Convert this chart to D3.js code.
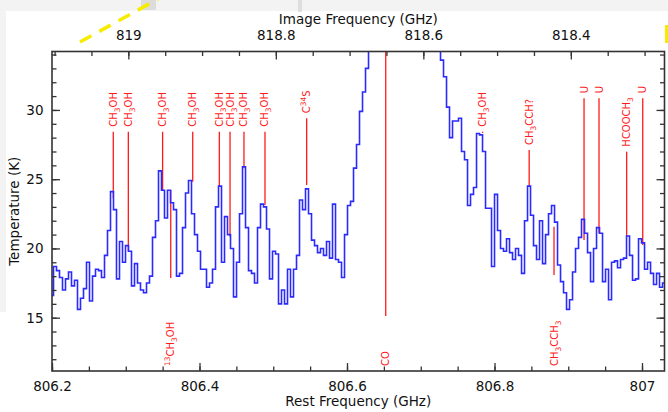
<!DOCTYPE html>
<html>
<head>
<meta charset="utf-8">
<script src="https://cdn.jsdelivr.net/npm/d3@7"></script>
<style>
  html, body { margin: 0; padding: 0; background: #f3f3f3; }
  svg { display: block; font-family: "DejaVu Sans", Verdana, sans-serif; }
</style>
</head>
<body>
<svg id="chart" width="668" height="412"></svg>
<script>
// spectrum: regular channel grid, brightness temperature per channel (K)
const SPEC_START = 806.2;
const SPEC_STEP = 0.004068;
const SPEC_T = [
  16.6, 18.7, 18.4, 17.9, 17.0, 17.8, 18.3, 17.3, 17.7, 15.6,
  16.4, 17.1, 19.0, 16.2, 18.0, 18.5, 18.4, 17.9, 19.5, 21.3,
  24.1, 22.8, 17.8, 20.5, 19.0, 20.2, 19.8, 17.3, 18.9, 17.5,
  17.0, 16.8, 17.5, 18.0, 20.8, 22.0, 25.6, 24.2, 22.2, 24.2,
  23.3, 22.8, 18.0, 18.2, 21.5, 24.0, 24.9, 22.5, 21.0, 19.8,
  18.5, 18.5, 17.2, 17.5, 18.5, 23.0, 24.5, 19.0, 22.3, 21.0,
  20.0, 16.5, 19.0, 22.5, 25.9, 21.5, 18.4, 18.2, 17.5, 21.5,
  23.2, 23.0, 21.4, 17.8, 19.8, 19.6, 16.0, 17.0, 16.0, 18.5,
  16.5, 18.5, 19.5, 23.5, 22.8, 24.3, 22.5, 20.6, 20.2, 19.7,
  20.0, 19.5, 20.5, 19.3, 23.2, 19.2, 19.0, 17.9, 21.0, 23.1,
  23.4, 25.8, 27.5, 29.9, 31.3, 33.0, 35.5, 37.0, 38.5, 40.0,
  41.0, 42.0, 42.5, 43.0, 43.0, 42.5, 42.0, 41.5, 41.0, 40.5,
  40.0, 39.5, 39.0, 38.5, 38.0, 37.5, 37.0, 36.5, 36.0, 35.0,
  33.6, 32.4, 30.2, 28.0, 29.2, 29.2, 29.4, 27.0, 26.4, 23.1,
  23.9, 24.4, 28.3, 28.2, 27.0, 22.9, 22.9, 18.7, 23.9, 21.3,
  20.0, 19.8, 20.7, 19.7, 19.2, 20.0, 19.5, 18.2, 22.0, 24.5,
  22.4, 20.2, 19.2, 22.0, 18.9, 21.0, 22.5, 23.1, 21.9, 18.8,
  17.6, 16.8, 15.6, 16.3, 18.3, 20.0, 20.8, 22.1, 21.1, 19.7,
  17.6, 20.0, 21.5, 21.1, 17.6, 18.5, 16.3, 19.0, 19.1, 18.6,
  19.2, 19.3, 20.9, 19.5, 17.7, 17.8, 20.7, 20.4, 18.5, 19.0,
  18.2, 17.4, 18.2, 17.2, 17.5
];

// line identifications
const LINE_NAMES = ["CH_3OH", "CH_3OH", "CH_3OH", "^13CH_3OH", "CH_3OH", "CH_3OH",
  "CH_3OH", "CH_3OH", "CH_3OH", "C^34S", "CO", "CH_3OH", "CH_3CCH?", "CH_3CCH_3",
  "U", "U", "HCOOCH_3", "U"];
const LINE_FREQ = [806.2831, 806.3035, 806.3500, 806.3610, 806.3908, 806.4269,
  806.4414, 806.4603, 806.4888, 806.5453, 806.6525, 806.7840, 806.8470, 806.8807,
  806.9214, 806.9417, 806.9792, 807.0010];
const LINE_TOP_T = [28.43, 28.43, 28.43, 24.22, 28.43, 28.43, 28.43, 28.43, 28.43,
  29.40, 36.0, 28.43, 27.10, 21.57, 30.85, 30.85, 26.99, 30.85];
const LINE_BOTTOM_T = [23.62, 19.77, 24.22, 17.87, 24.82, 24.46, 20.85, 25.79, 23.14,
  24.58, 15.13, 28.34, 24.46, 18.09, 20.61, 21.10, 20.85, 20.25];
const LINE_LABEL_BELOW = ["^13CH_3OH", "CO", "CH_3CCH_3"];

// axes
const REST_RANGE = [806.2, 807.0305];
const TEMP_RANGE = [11.15, 34.22];
const LO_FREQ = 812.65175; // image = 2*LO - rest
const REST_TICKS = [806.2, 806.4, 806.6, 806.8, 807.0];
const IMAGE_TICKS = [819.0, 818.8, 818.6, 818.4];
const TEMP_TICKS = [15, 20, 25, 30];

const margin = { top: 51.5, right: 3.5, bottom: 41, left: 52 };
const width = 668 - margin.left - margin.right;
const height = 412 - margin.top - margin.bottom;

const svg = d3.select("#chart");

// page backdrop (white sheet on grey)
svg.append("rect").attr("x", 6).attr("y", 11).attr("width", 662).attr("height", 401).attr("fill", "#fff");
svg.append("rect").attr("x", 0).attr("y", 312).attr("width", 6).attr("height", 100).attr("fill", "#fff");
svg.append("rect").attr("x", 141).attr("y", 0).attr("width", 15).attr("height", 10).attr("fill", "#dcdcdc");
svg.append("rect").attr("x", 298).attr("y", 0).attr("width", 4).attr("height", 12).attr("fill", "#dedede");
svg.append("line")
  .attr("x1", 80).attr("y1", 42).attr("x2", 158).attr("y2", -1)
  .attr("stroke", "#f7ec00").attr("stroke-width", 3.5)
  .attr("stroke-dasharray", "13,9");
svg.append("rect").attr("x", 665).attr("y", 25).attr("width", 3).attr("height", 18).attr("fill", "#f7ec00");

const g = svg.append("g").attr("transform", `translate(${margin.left},${margin.top})`);

const x = d3.scaleLinear().domain(REST_RANGE).range([0, width]);
const xImage = d3.scaleLinear()
  .domain(REST_RANGE.map((f) => 2 * LO_FREQ - f))
  .range([0, width]);
const y = d3.scaleLinear().domain(TEMP_RANGE).range([height, 0]);

g.append("clipPath").attr("id", "plotClip")
  .append("rect").attr("width", width).attr("height", height);

const plot = g.append("g").attr("clip-path", "url(#plotClip)");

// red line markers
const lines = LINE_NAMES.map((name, i) => ({
  name,
  freq: LINE_FREQ[i],
  top: LINE_TOP_T[i],
  bottom: LINE_BOTTOM_T[i],
  below: LINE_LABEL_BELOW.includes(name),
}));

plot.selectAll(".marker")
  .data(lines)
  .enter()
  .append("line")
  .classed("marker", true)
  .attr("x1", (d) => x(d.freq))
  .attr("x2", (d) => x(d.freq))
  .attr("y1", (d) => y(d.top))
  .attr("y2", (d) => y(d.bottom))
  .attr("stroke", "#ff1a1a")
  .attr("stroke-width", 1.3);

// spectrum
const spectrum = SPEC_T.map((t, i) => ({ f: SPEC_START + i * SPEC_STEP, t }));

plot.append("path")
  .datum(spectrum)
  .attr("fill", "none")
  .attr("stroke", "#2a2aff")
  .attr("stroke-width", 1.6)
  .attr("d", d3.line().curve(d3.curveStep).x((d) => x(d.f)).y((d) => y(d.t)));

// labels: "_3" subscript, "^13" superscript
function addRich(sel, str) {
  const parts = str.match(/[_^]\d+|[^_^]+/g);
  let shift = 0;
  parts.forEach((p) => {
    let dy = -shift;
    let size = null;
    if (p[0] === "_") { shift = 3; size = 7.5; p = p.slice(1); }
    else if (p[0] === "^") { shift = -4; size = 7.5; p = p.slice(1); }
    else { shift = 0; }
    dy += shift;
    const t = sel.append("tspan").attr("dy", dy).text(p);
    if (size) t.style("font-size", size + "px");
  });
}

g.selectAll(".lineLabel")
  .data(lines)
  .enter()
  .append("text")
  .classed("lineLabel", true)
  .attr("transform", (d) => {
    const ly = d.below ? height - 5 : y(d.top) - 5;
    return `translate(${x(d.freq) + 3.5},${ly}) rotate(-90)`;
  })
  .attr("fill", "#ff1a1a")
  .style("font-size", "10px")
  .each(function (d) { addRich(d3.select(this), d.name); });

// axes
const axisColor = "#333";
const fmt = (d) => String(+d.toFixed(2));

function styleAxis(a) {
  a.select(".domain").remove();
  a.selectAll(".tick line").attr("stroke", axisColor).attr("stroke-width", 1.3);
  a.selectAll("text").attr("fill", "#111").style("font-size", "13.5px")
    .style("font-family", "DejaVu Sans, Verdana, sans-serif");
}

const minorRest = d3.range(806.2, 807.03, 0.05);
const minorImage = d3.range(818.3, 819.11, 0.05);
const minorTemp = d3.range(12, 35, 1);

g.append("g").attr("transform", `translate(0,${height})`)
  .call(d3.axisBottom(x).tickValues(minorRest).tickSize(-4.5).tickFormat(""))
  .call(styleAxis);
g.append("g").attr("transform", `translate(0,${height})`)
  .call(d3.axisBottom(x).tickValues(REST_TICKS).tickSize(-8).tickPadding(10).tickFormat(fmt))
  .call(styleAxis);

g.append("g")
  .call(d3.axisTop(xImage).tickValues(minorImage).tickSize(-4.5).tickFormat(""))
  .call(styleAxis);
g.append("g")
  .call(d3.axisTop(xImage).tickValues(IMAGE_TICKS).tickSize(-8).tickPadding(12).tickFormat(fmt))
  .call(styleAxis);

g.append("g")
  .call(d3.axisLeft(y).tickValues(minorTemp).tickSize(-4.5).tickFormat(""))
  .call(styleAxis);
g.append("g")
  .call(d3.axisLeft(y).tickValues(TEMP_TICKS).tickSize(-8).tickPadding(8.5).tickFormat(fmt))
  .call(styleAxis);

g.append("g").attr("transform", `translate(${width},0)`)
  .call(d3.axisRight(y).tickValues(minorTemp).tickSize(-4.5).tickFormat(""))
  .call(styleAxis);
g.append("g").attr("transform", `translate(${width},0)`)
  .call(d3.axisRight(y).tickValues(TEMP_TICKS).tickSize(-8).tickFormat(""))
  .call(styleAxis);

g.append("rect")
  .attr("width", width)
  .attr("height", height)
  .attr("fill", "none")
  .attr("stroke", axisColor)
  .attr("stroke-width", 1.6);

// axis titles
svg.append("text")
  .attr("x", margin.left + width / 2)
  .attr("y", 406)
  .attr("text-anchor", "middle")
  .style("font-size", "13.5px")
  .attr("fill", "#111")
  .text("Rest Frequency (GHz)");

svg.append("text")
  .attr("x", margin.left + width / 2)
  .attr("y", 23.5)
  .attr("text-anchor", "middle")
  .style("font-size", "13.5px")
  .attr("fill", "#111")
  .text("Image Frequency (GHz)");

svg.append("text")
  .attr("transform", `translate(19,${margin.top + height / 2}) rotate(-90)`)
  .attr("text-anchor", "middle")
  .style("font-size", "13.5px")
  .attr("fill", "#111")
  .text("Temperature (K)");
</script>
</body>
</html>
